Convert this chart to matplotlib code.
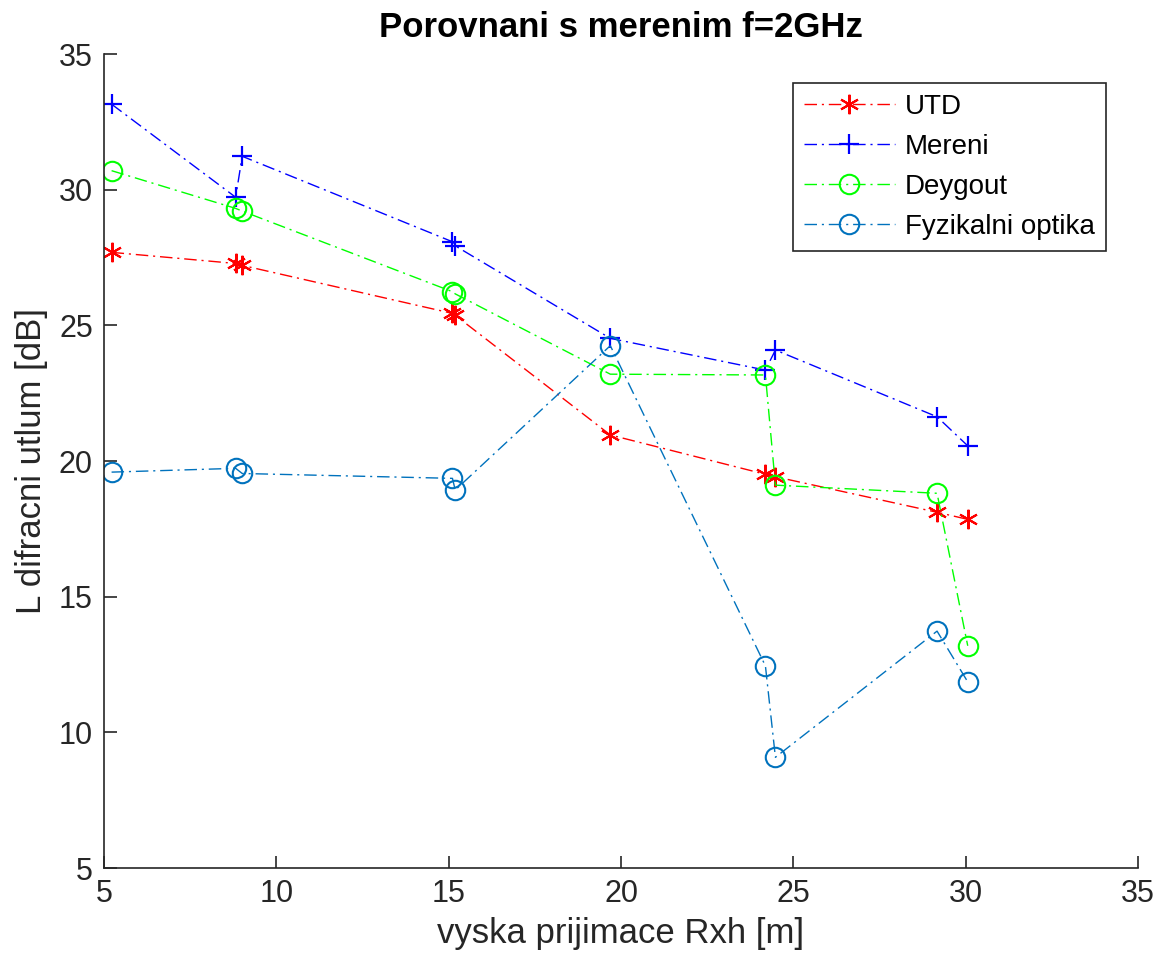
import matplotlib

matplotlib.use('Agg')

import matplotlib.pyplot as plt

plt.rcParams['font.family'] = ['Liberation Sans', 'DejaVu Sans']

# vyska prijimace [m]
rxh = [5.22, 8.82, 9.01, 15.11, 15.19, 19.69, 24.19, 24.48, 29.17, 30.06]

# utlum [dB]
utd = [27.69, 27.28, 27.21, 25.44, 25.37, 20.96, 19.51, 19.42, 18.11, 17.85]
mereni = [33.15, 29.72, 31.23, 28.08, 27.93, 24.52, 23.35, 24.09, 21.63, 20.56]
deygout = [30.70, 29.31, 29.21, 26.24, 26.16, 23.20, 23.17, 19.11, 18.81, 13.19]
fyz_optika = [19.59, 19.73, 19.54, 19.36, 18.93, 24.25, 12.45, 9.08, 13.73, 11.86]

x_ticks = [5, 10, 15, 20, 25, 30, 35]
y_ticks = [5, 10, 15, 20, 25, 30, 35]

dashdot = (0, (9, 3.5, 1.5, 3.5))
axis_color = (0.15, 0.15, 0.15)

fig = plt.figure(figsize=(11.65, 9.64), dpi=100)
ax = fig.add_axes([104 / 1165., 1 - 868 / 964., (1138 - 104) / 1165., (868 - 54) / 964.])

ax.plot(rxh, utd, color=(1, 0, 0), linestyle=dashdot, linewidth=1.0,
        marker=(6, 2, 0), markersize=14, markeredgewidth=1.5, label='UTD')
ax.plot(rxh, mereni, color=(0, 0, 1), linestyle=dashdot, linewidth=1.0,
        marker='+', markersize=15, markeredgewidth=1.6, label='Mereni')
ax.plot(rxh, deygout, color=(0, 1, 0), linestyle=dashdot, linewidth=1.0,
        marker='o', markersize=14, markeredgewidth=1.5, markerfacecolor='none', label='Deygout')
ax.plot(rxh, fyz_optika, color=(0, 0.447, 0.741), linestyle=dashdot, linewidth=1.0,
        marker='o', markersize=14, markeredgewidth=1.5, markerfacecolor='none',
        label='Fyzikalni optika')

ax.set_xlim(5, 35)
ax.set_ylim(5, 35)
ax.set_xticks(x_ticks)
ax.set_yticks(y_ticks)

for side in ['top', 'right']:
    ax.spines[side].set_visible(False)
for side in ['left', 'bottom']:
    ax.spines[side].set_color(axis_color)
    ax.spines[side].set_linewidth(1.2)
ax.tick_params(direction='in', length=9, width=1.2, colors=axis_color,
               labelsize=22, labelcolor=axis_color, pad=8)

ax.set_xlabel('vyska prijimace Rxh [m]', fontsize=25, color=axis_color, labelpad=6)
ax.set_ylabel('L difracni utlum [dB]', fontsize=25, color=axis_color, labelpad=8)
ax.set_title('Porovnani s merenim f=2GHz', fontsize=25, fontweight='bold', pad=12)

leg = ax.legend(loc='upper right', bbox_to_anchor=(1 - 32 / 1034., 1 - 29 / 814.),
                borderaxespad=0, fontsize=20, fancybox=False, framealpha=1,
                edgecolor=axis_color, handlelength=3.3, labelspacing=0.5,
                handletextpad=0.35, borderpad=0.4)
leg.get_frame().set_linewidth(1.2)

plt.savefig('out.png', dpi=100)
